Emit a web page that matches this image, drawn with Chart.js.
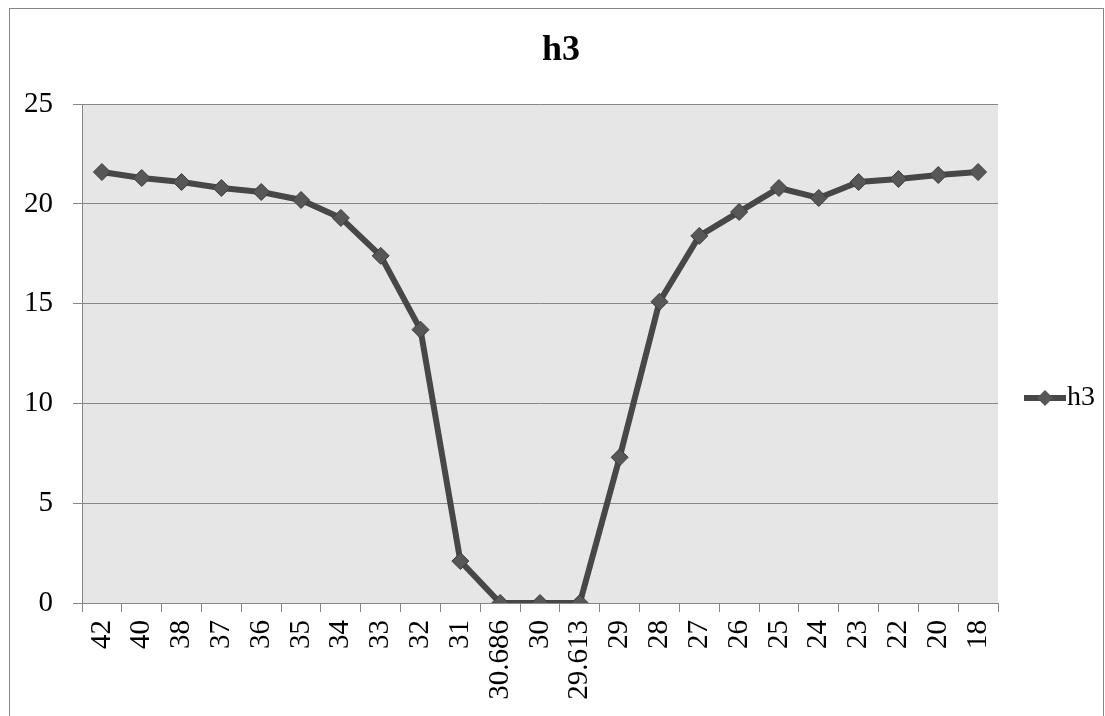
<!DOCTYPE html>
<html>
<head>
<meta charset="utf-8">
<script src="https://cdn.jsdelivr.net/npm/chart.js@4/dist/chart.umd.min.js"></script>
<style>
  html, body { margin: 0; padding: 0; background: #fff; }
  #wrap { width: 1105px; height: 716px; }
</style>
</head>
<body>
<div id="wrap"><canvas id="chart" width="1105" height="716"></canvas></div>
<script>
// categories (x axis, as printed)
const categories = ['42', '40', '38', '37', '36', '35', '34', '33', '32', '31', '30.686', '30',
    '29.613', '29', '28', '27', '26', '25', '24', '23', '22', '20', '18'];
// series h3
const h3Values = [21.6, 21.3, 21.1, 20.8, 20.6, 20.2, 19.3, 17.4, 13.7, 2.1, 0, 0,
    0, 7.3, 15.1, 18.4, 19.6, 20.8, 20.3, 21.1, 21.25, 21.45, 21.6];
const seriesName = 'h3';
// y axis
const yMin = 0, yMax = 25, yStep = 5;

const FONT = "'Liberation Serif', 'DejaVu Serif', serif";
const LINE = '#474747';
const MARK = '#575757';
const GRID = '#868686';

// gray plot area + outer frame
const frame = {
    id: 'frame',
    beforeDraw(chart){
        var ctx = chart.ctx, a = chart.chartArea;
        ctx.save();
        ctx.fillStyle = '#e6e6e6';
        ctx.fillRect(a.left, a.top, a.right - a.left, a.bottom - a.top);
        ctx.strokeStyle = GRID;
        ctx.lineWidth = 1;
        ctx.strokeRect(9.5, 8.5, 1094, 740);
        ctx.restore();
    }
};

// excel-like legend: line with a diamond, then the name
const sideLegend = {
    id: 'sideLegend',
    afterDraw(chart){
        var ctx = chart.ctx;
        var ds = chart.data.datasets[0];
        var x = 1024, y = 398;
        ctx.save();
        ctx.strokeStyle = LINE;
        ctx.lineWidth = 6;
        ctx.beginPath();
        ctx.moveTo(x, y);
        ctx.lineTo(x + 42, y);
        ctx.stroke();
        ctx.fillStyle = MARK;
        ctx.beginPath();
        ctx.moveTo(x + 21, y - 8);
        ctx.lineTo(x + 29, y);
        ctx.lineTo(x + 21, y + 8);
        ctx.lineTo(x + 13, y);
        ctx.closePath();
        ctx.fill();
        ctx.fillStyle = '#000';
        ctx.font = '28px ' + FONT;
        ctx.textBaseline = 'middle';
        ctx.fillText(ds.label, x + 43, y);
        ctx.restore();
    }
};

new Chart(document.getElementById('chart'), {
    type: 'line',
    data: {
        labels: categories,
        datasets: [{
            label: seriesName,
            data: h3Values,
            borderColor: LINE,
            borderWidth: 6,
            pointStyle: 'rectRot',
            pointRadius: 8.5,
            pointBackgroundColor: MARK,
            pointBorderColor: '#3c3c3c',
            pointBorderWidth: 1,
            tension: 0
        }]
    },
    options: {
        responsive: false,
        animation: false,
        layout: { padding: { left: 17, right: 0, top: 0, bottom: 0 } },
        plugins: {
            legend: { display: false },
            tooltip: { enabled: false },
            title: {
                display: true,
                text: seriesName,
                color: '#000',
                font: { family: FONT, size: 36, weight: 'bold' },
                padding: { top: 29, bottom: 32 }
            }
        },
        scales: {
            x: {
                offset: true,
                grid: { offset: true, drawOnChartArea: false, drawTicks: true, tickLength: 9, color: GRID },
                border: { color: GRID, width: 1 },
                ticks: {
                    autoSkip: false,
                    minRotation: 90,
                    maxRotation: 90,
                    padding: 8,
                    color: '#000',
                    font: { family: FONT, size: 29 }
                },
                afterFit(scale){ scale.height = 113; }
            },
            y: {
                min: yMin,
                max: yMax,
                grid: { color: GRID, tickLength: 9 },
                border: { color: GRID, width: 1 },
                ticks: {
                    stepSize: yStep,
                    padding: 20,
                    color: '#000',
                    font: { family: FONT, size: 29 }
                },
                afterFit(scale){ scale.width = 65; }
            },
            // empty right-hand space for the legend
            side: {
                position: 'right',
                grid: { display: false, drawTicks: false },
                border: { display: false },
                ticks: { display: false },
                afterFit(scale){ scale.width = 107; }
            }
        }
    },
    plugins: [frame, sideLegend]
});
</script>
</body>
</html>
